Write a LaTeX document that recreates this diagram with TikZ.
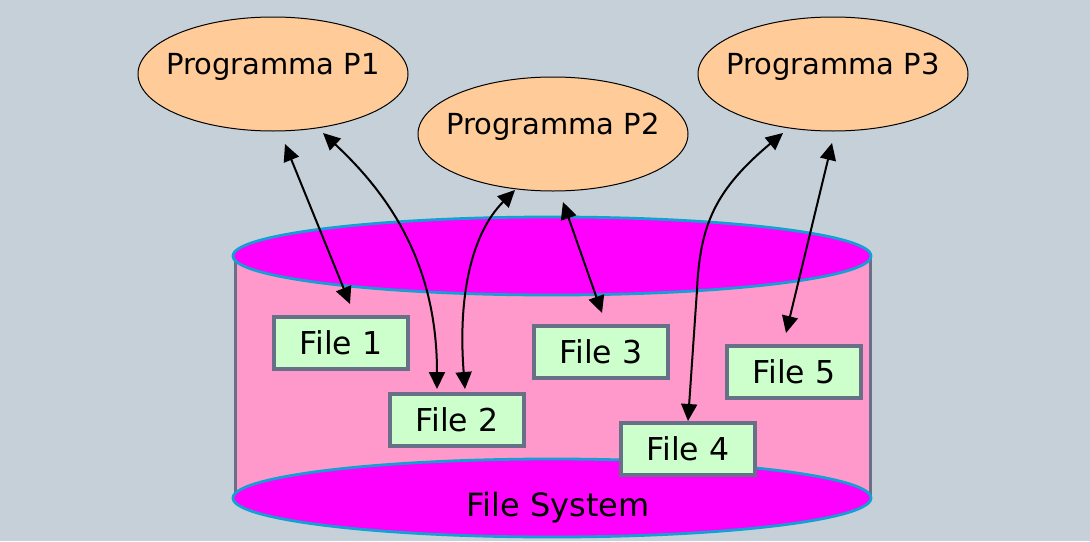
\documentclass[tikz,border=0pt]{standalone}
\usepackage{fontspec}
\setmainfont{DejaVu Sans}
\usetikzlibrary{shapes.geometric,arrows.meta}

\definecolor{bgblue}{RGB}{197,208,216}
\definecolor{progorange}{RGB}{255,204,153}
\definecolor{diskpink}{RGB}{255,153,204}
\definecolor{diskmagenta}{RGB}{255,0,255}
\definecolor{diskrim}{RGB}{20,160,210}
\definecolor{boxgray}{RGB}{104,112,136}
\definecolor{filegreen}{RGB}{204,255,204}

\begin{document}
\begin{tikzpicture}[x=1pt, y=-1pt,
  prog/.style={draw, ellipse, fill=progorange, line width=1pt, minimum width=270pt, minimum height=114pt, inner sep=0pt},
  progname/.style={anchor=base, font=\fontsize{29}{35}\selectfont},
  file/.style={draw=boxgray, fill=filegreen, line width=3.5pt, minimum width=134pt, minimum height=52pt, inner sep=0pt, font=\fontsize{31.5}{38}\selectfont},
  disk/.style={fill=diskmagenta, draw=diskrim, line width=2.8pt},
  link/.style={line width=2pt, {Triangle[length=17pt,width=16pt]}-{Triangle[length=17pt,width=16pt]}}]

\useasboundingbox (0,0) rectangle (1090,541);
\fill[bgblue] (0,0) rectangle (1090,541);

% programmi
\node[prog] (p1) at (273,74) {};
\node[prog] (p2) at (553,134) {};
\node[prog] (p3) at (833,74) {};
\node[progname] (p1t) at (p1.center) {Programma P1};
\node[progname] (p2t) at (p2.center) {Programma P2};
\node[progname] (p3t) at (p3.center) {Programma P3};

% file system
\fill[diskpink] (235,256) rectangle (870,497);
\draw[boxgray, line width=3pt] (235,256) -- (235,497) (870,256) -- (870,497);
\filldraw[disk] (552,498) ellipse [x radius=319pt, y radius=39pt];
\filldraw[disk] (552,256) ellipse [x radius=319pt, y radius=39pt];
\node[anchor=base, font=\fontsize{32}{38}\selectfont] (fs) at (558,516) {File System};

\node[file] (f1) at (341,343) {File 1};
\node[file] (f2) at (457,420) {File 2};
\node[file] (f3) at (601,352) {File 3};
\node[file] (f4) at (688,449) {File 4};
\node[file] (f5) at (794,372) {File 5};

% accessi
\draw[link] ([shift={(12,70)}]p1.center) -- ([shift={(9,-39)}]f1.center);
\draw[link] ([shift={(50,59)}]p1.center) .. controls (395,200) and (437,270) .. ([shift={(-20,-31)}]f2.center);
\draw[link] ([shift={(-38,56)}]p2.center) .. controls (470,235) and (458,300) .. ([shift={(8,-31)}]f2.center);
\draw[link] ([shift={(10,68)}]p2.center) -- ([shift={(1,-39)}]f3.center);
\draw[link] ([shift={(-50,59)}]p3.center) .. controls (715,190) and (700,225) .. (697,290) -- ([shift={(0,-28)}]f4.center);
\draw[link] ([shift={(-1,69)}]p3.center) -- ([shift={(-8,-39)}]f5.center);

\end{tikzpicture}
\end{document}
